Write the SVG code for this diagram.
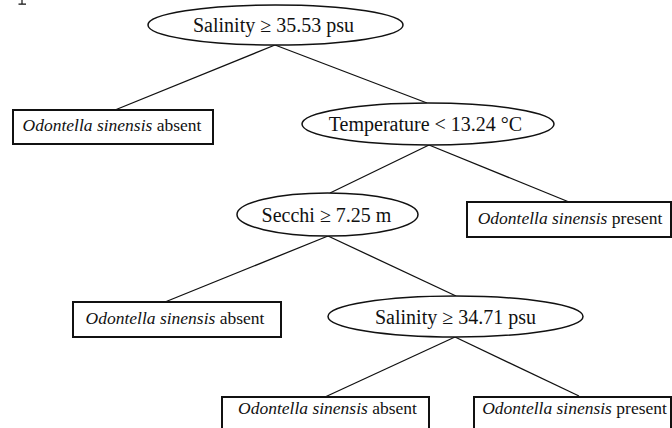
<svg xmlns="http://www.w3.org/2000/svg" width="672" height="428" viewBox="0 0 672 428">
<style>
  .cond ellipse { fill: #fff; stroke: #111; stroke-width: 1.5; }
  .leaf rect { fill: #fff; stroke: #111; stroke-width: 2; }
  .ct { font-family: "Liberation Serif", "Times New Roman", serif; font-size: 20px; fill: #111; text-anchor: middle; }
  .lt { font-family: "Liberation Serif", "Times New Roman", serif; font-size: 17.5px; fill: #111; text-anchor: middle; }
  .it { font-style: italic; }
  #connectors line { stroke: #111; stroke-width: 1.3; }
</style>
<rect width="672" height="428" fill="#fff"/>
<path d="M22 0 V4 M18.5 4.2 H26" stroke="#111" stroke-width="1.2" fill="none"/>
<g id="connectors">
  <line x1="275" y1="45" x2="115" y2="110"/>
  <line x1="275" y1="45" x2="427" y2="103"/>
  <line x1="429" y1="145" x2="330" y2="193"/>
  <line x1="429" y1="145" x2="569" y2="202"/>
  <line x1="328" y1="236" x2="165" y2="302"/>
  <line x1="328" y1="236" x2="456" y2="296"/>
  <line x1="455" y1="337" x2="325" y2="397"/>
  <line x1="455" y1="337" x2="579" y2="396"/>
</g>
<g id="root" class="cond">
  <ellipse cx="275.5" cy="25" rx="127.5" ry="20"/>
  <text class="ct" x="273.5" y="32">Salinity ≥ 35.53 psu</text>
</g>
<g id="leaf1" class="leaf">
  <rect x="13" y="110" width="200" height="34"/>
  <text class="lt" x="112" y="131"><tspan class="it">Odontella sinensis</tspan> absent</text>
</g>
<g id="temperature" class="cond">
  <ellipse cx="428" cy="124" rx="126" ry="21"/>
  <text class="ct" x="425.5" y="131">Temperature &lt; 13.24 °C</text>
</g>
<g id="secchi" class="cond">
  <ellipse cx="327.5" cy="214.5" rx="90.5" ry="21.5"/>
  <text class="ct" x="326.5" y="221.5">Secchi ≥ 7.25 m</text>
</g>
<g id="leaf2" class="leaf">
  <rect x="467" y="202" width="204" height="35"/>
  <text class="lt" x="570" y="223.5"><tspan class="it">Odontella sinensis</tspan> present</text>
</g>
<g id="leaf3" class="leaf">
  <rect x="73" y="302" width="208" height="35"/>
  <text class="lt" x="175" y="323.5"><tspan class="it">Odontella sinensis</tspan> absent</text>
</g>
<g id="salinity2" class="cond">
  <ellipse cx="455.5" cy="316.5" rx="127.5" ry="20.5"/>
  <text class="ct" x="455.5" y="323.5">Salinity ≥ 34.71 psu</text>
</g>
<g id="leaf4" class="leaf">
  <rect x="222" y="397" width="207" height="36"/>
  <text class="lt" x="327.5" y="414"><tspan class="it">Odontella sinensis</tspan> absent</text>
</g>
<g id="leaf5" class="leaf">
  <rect x="474" y="397" width="197" height="36"/>
  <text class="lt" x="574.5" y="414"><tspan class="it">Odontella sinensis</tspan> present</text>
</g>
</svg>
